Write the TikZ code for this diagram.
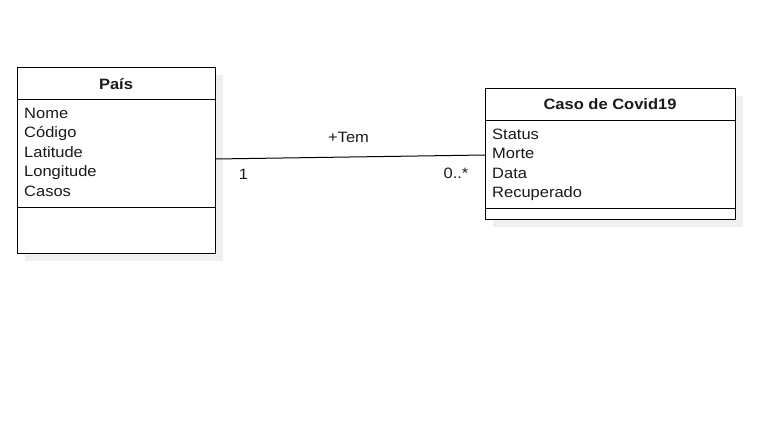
\documentclass[tikz,border=0pt]{standalone}
\usepackage{fontspec}
\setmainfont{Liberation Sans}[FakeStretch=1.1]
\definecolor{shadowgray}{HTML}{F0F0F0}
\definecolor{ink}{HTML}{1A1A1A}
\tikzset{
  classbox/.style={draw=black, line width=1pt, fill=white, inner sep=0pt, outer sep=0pt, anchor=north west},
  shadowbox/.style={fill=shadowgray, draw=none, inner sep=0pt, outer sep=0pt, anchor=north west},
  title/.style={font=\fontsize{15}{18}\selectfont\bfseries, text=ink, inner sep=0pt, anchor=base},
  attr/.style={font=\fontsize{15}{18}\selectfont, text=ink, inner sep=0pt, anchor=base west},
  lbl/.style={font=\fontsize{15}{18}\selectfont, text=ink, inner sep=0pt, anchor=base},
  conn/.style={draw=black, line width=1pt}
}
\begin{document}
\begin{tikzpicture}[x=1pt,y=-1pt]
\useasboundingbox (0,0) rectangle (760,431);
% País
\node[shadowbox, minimum width=198pt, minimum height=186pt] (paisshadow) at (25,75) {};
\node[classbox, minimum width=198pt, minimum height=186pt] (pais) at (17,67) {};
\draw[line width=1pt] (17,99) -- (215,99);
\draw[line width=1pt] (17,207) -- (215,207);
\node[title] (paistitle) at (116,89) {País};
\node[attr] (a1) at (24,118) {Nome};
\node[attr] (a2) at (24,137.5) {Código};
\node[attr] (a3) at (24,157) {Latitude};
\node[attr] (a4) at (24,176.5) {Longitude};
\node[attr] (a5) at (24,196) {Casos};
% Caso de Covid19
\node[shadowbox, minimum width=250pt, minimum height=131pt] (casoshadow) at (493,96) {};
\node[classbox, minimum width=250pt, minimum height=131pt] (caso) at (485,88) {};
\draw[line width=1pt] (485,120) -- (735,120);
\draw[line width=1pt] (485,208) -- (735,208);
\node[title] (casotitle) at (610,109) {Caso de Covid19};
\node[attr] (b1) at (492,139) {Status};
\node[attr] (b2) at (492,158.5) {Morte};
\node[attr] (b3) at (492,178) {Data};
\node[attr] (b4) at (492,197.5) {Recuperado};
% association
\draw[conn] ([yshift=1pt]pais.east) -- ([yshift=-1.5pt]caso.west);
\node[lbl] (tem) at (348.5,142.5) {+Tem};
\node[lbl] (one) at (243.5,179) {1};
\node[lbl] (many) at (456,178) {0..*};
\end{tikzpicture}
\end{document}
